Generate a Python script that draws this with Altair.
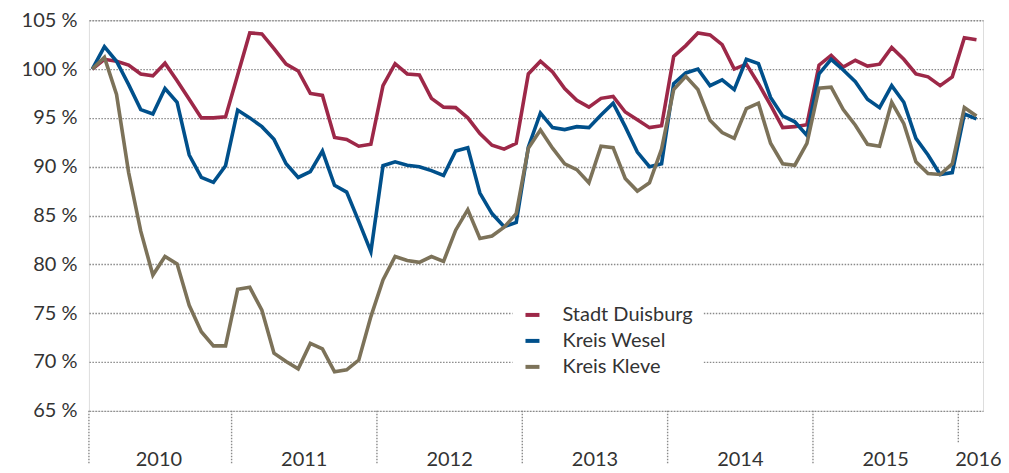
import altair as alt
import pandas as pd

# ---- data ----
series_names = ["Stadt Duisburg", "Kreis Wesel", "Kreis Kleve"]
series_colors = ["#9d2848", "#00508b", "#7c7259"]

duisburg = [100.0, 101.0, 100.8, 100.4, 99.5, 99.3, 100.6, 98.8, 96.9, 95.0, 95.0, 95.1,
            99.4, 103.7, 103.6, 102.1, 100.5, 99.8, 97.5, 97.3, 93.0, 92.8, 92.1, 92.3,
            98.3, 100.55, 99.5, 99.4, 97.0, 96.1, 96.05, 95.0, 93.4, 92.2, 91.8, 92.4,
            99.5, 100.8, 99.7, 98.0, 96.8, 96.1, 97.0, 97.2, 95.6, 94.8, 94.0, 94.2,
            101.3, 102.4, 103.7, 103.5, 102.5, 100.0, 100.5, 98.5, 96.3, 94.0, 94.1, 94.3,
            100.4, 101.4, 100.2, 100.9, 100.3, 100.5, 102.2, 101.0, 99.5, 99.2, 98.3, 99.2,
            103.2, 103.0]

wesel = [100.0, 102.3, 100.8, 98.4, 95.85, 95.4, 98.0, 96.6, 91.2, 88.9, 88.4, 90.1,
         95.8, 95.0, 94.1, 92.8, 90.3, 88.9, 89.5, 91.6, 88.1, 87.4, 84.4, 81.3,
         90.1, 90.5, 90.15, 90.0, 89.6, 89.1, 91.6, 91.95, 87.3, 85.2, 83.85, 84.3,
         92.0, 95.5, 94.0, 93.8, 94.1, 94.0, 95.3, 96.5, 94.1, 91.5, 90.0, 90.3,
         98.5, 99.6, 100.0, 98.3, 98.9, 97.9, 101.0, 100.55, 97.1, 95.2, 94.6, 93.2,
         99.5, 101.0, 99.9, 98.7, 96.9, 96.05, 98.3, 96.6, 92.9, 91.2, 89.2, 89.4,
         95.4, 94.9]

kleve = [100.0, 101.2, 97.4, 89.4, 83.4, 78.9, 80.8, 80.05, 75.8, 73.1, 71.65, 71.65,
         77.45, 77.65, 75.3, 70.9, 70.05, 69.3, 71.9, 71.35, 69.0, 69.2, 70.2, 74.65,
         78.4, 80.8, 80.4, 80.2, 80.8, 80.3, 83.5, 85.6, 82.65, 82.9, 83.8, 85.2,
         91.9, 93.75, 91.9, 90.3, 89.7, 88.35, 92.1, 91.95, 88.8, 87.5, 88.35, 91.8,
         97.9, 99.25, 97.9, 94.75, 93.5, 92.9, 95.95, 96.5, 92.4, 90.3, 90.15, 92.4,
         98.05, 98.15, 95.85, 94.25, 92.3, 92.1, 96.6, 94.4, 90.5, 89.3, 89.2, 90.3,
         96.05, 95.2]

years = [2010, 2011, 2012, 2013, 2014, 2015, 2016]
first_year = 2010
y_ticks = [65, 70, 75, 80, 85, 90, 95, 100, 105]

# ---- tables built from the arrays ----
rows = []
for name, vals in zip(series_names, [duisburg, wesel, kleve]):
    for i, v in enumerate(vals):
        rows.append({"m": i, "value": v, "series": name})
df = pd.DataFrame(rows)

n_months = len(duisburg)
x_min, x_max = -0.28, n_months - 0.46
sep_rows, lab_rows = [], []
for y in years:
    ms = [i for i in range(n_months) if first_year + i // 12 == y]
    start = ms[0] - 0.5 if y != first_year else x_min
    sep_rows.append({"year": y, "x": start, "last": y == years[-1]})
    lab_rows.append({"year": str(y), "x": sum(ms) / len(ms), "last": y == years[-1]})
seps = pd.DataFrame(sep_rows)
labs = pd.DataFrame(lab_rows)

W, H = 895, 391
FONT = "Lato"
TXT = "#333333"
GRID = "#8a8a8a"

xscale = alt.Scale(domain=[x_min, x_max], nice=False, zero=False)

lines = alt.Chart(df).mark_line(strokeWidth=3.6, strokeJoin="miter").encode(
    x=alt.X("m:Q", scale=xscale, axis=None),
    y=alt.Y("value:Q", scale=alt.Scale(domain=[65, 105], nice=False, zero=False),
            axis=alt.Axis(values=y_ticks, labelExpr="datum.value + ' %'", title=None,
                          ticks=False, domain=False, labelPadding=12,
                          labelFont=FONT, labelFontSize=20, labelFontWeight=400,
                          labelColor=TXT,
                          grid=True, gridColor=GRID, gridDash=[1.5, 1.5], gridWidth=1.4)),
    color=alt.Color("series:N",
                    scale=alt.Scale(domain=series_names, range=series_colors),
                    sort=series_names,
                    legend=alt.Legend(title=None, orient="none", legendX=424, legendY=275,
                                      fillColor="white", padding=10, symbolType="stroke",
                                      symbolSize=196, symbolStrokeWidth=4, labelOffset=20,
                                      labelFont=FONT, labelFontSize=20, labelFontWeight=400,
                                      labelColor=TXT, rowPadding=6)),
    order=alt.Order("m:Q"),
)

sep_main = alt.Chart(seps).transform_filter("!datum.last").mark_rule(
    color=GRID, strokeDash=[1.5, 1.5], strokeWidth=1.4
).encode(x=alt.X("x:Q", scale=xscale), y=alt.value(H), y2=alt.value(H + 53))

sep_last = alt.Chart(seps).transform_filter("datum.last").mark_rule(
    color=GRID, strokeDash=[1.5, 1.5], strokeWidth=1.4
).encode(x=alt.X("x:Q", scale=xscale), y=alt.value(H), y2=alt.value(H + 33))

lab_main = alt.Chart(labs).transform_filter("!datum.last").mark_text(
    font=FONT, fontSize=20, fontWeight=400, color=TXT, baseline="alphabetic", align="center"
).encode(x=alt.X("x:Q", scale=xscale), y=alt.value(H + 55), text="year:N")

lab_last = alt.Chart(labs).transform_filter("datum.last").mark_text(
    font=FONT, fontSize=20, fontWeight=400, color=TXT, baseline="alphabetic", align="center", dx=8
).encode(x=alt.X("x:Q", scale=xscale), y=alt.value(H + 55), text="year:N")

chart = alt.layer(lines, sep_main, sep_last, lab_main, lab_last).properties(
    width=W, height=H,
    padding={"left": 81, "top": 12, "right": 18, "bottom": 62},
    autosize=alt.AutoSizeParams(type="none"),
).configure_view(stroke=None).configure(background="white")

chart.save("out.html", embed_options={"renderer": "svg", "actions": False})
